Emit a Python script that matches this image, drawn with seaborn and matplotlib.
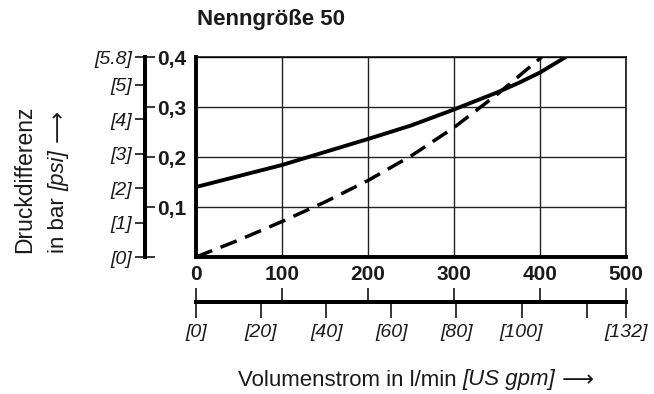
import matplotlib
matplotlib.use("Agg")
import matplotlib.pyplot as plt
import seaborn as sns

# pressure drop curves
flow_solid = [0, 50, 100, 150, 200, 250, 300, 350, 375, 400, 430]
dp_solid = [0.140, 0.162, 0.184, 0.210, 0.236, 0.263, 0.295, 0.329, 0.348, 0.369, 0.400]
flow_dashed = [0, 50, 100, 150, 200, 250, 300, 350, 402]
dp_dashed = [0.0, 0.034, 0.071, 0.110, 0.153, 0.202, 0.259, 0.325, 0.400]

flow_ticks = [0, 100, 200, 300, 400, 500]
flow_labels = ["0", "100", "200", "300", "400", "500"]
bar_ticks = [0, 0.1, 0.2, 0.3, 0.4]
bar_labels = ["", "0,1", "0,2", "0,3", "0,4"]
psi_ticks = [0, 1, 2, 3, 4, 5, 5.8]
psi_labels = ["[0]", "[1]", "[2]", "[3]", "[4]", "[5]", "[5.8]"]
gpm_ticks = [0, 20, 40, 60, 80, 100, 120, 132]
gpm_labels = ["[0]", "[20]", "[40]", "[60]", "[80]", "[100]", "", "[132]"]

BAR_TO_PSI = 14.5038
LPM_PER_GPM = 3.78541

sns.set_theme(style="white")
plt.rcParams['font.family'] = ['Liberation Sans', 'DejaVu Sans']
plt.rcParams['text.color'] = '#1a1a1a'
plt.rcParams['xtick.labelcolor'] = '#1a1a1a'
plt.rcParams['ytick.labelcolor'] = '#1a1a1a'

fig = plt.figure(figsize=(6.54, 3.94), dpi=100)
ax = fig.add_axes([196/654, 137/394, 430/654, 200/394])

sns.lineplot(x=flow_solid, y=dp_solid, ax=ax, color='black', lw=2.8)
sns.lineplot(x=flow_dashed, y=dp_dashed, ax=ax, color='black', lw=2.5)
ax.lines[-1].set_dashes((5, 2.6))

ax.set_xlim(0, 500)
ax.set_ylim(0, 0.4)
ax.set_xticks(flow_ticks)
ax.set_yticks(bar_ticks)
ax.grid(True, color='#222222', lw=1.0)
ax.tick_params(length=0, labelbottom=False, labelleft=False)
for name, s in ax.spines.items():
    s.set_color('black')
    s.set_linewidth(2.8 if name in ('left', 'bottom') else 1.1)

off_y = -51/430
off_x = -0.225

# bar scale (ticks to the right of the separate spine)
axb = ax.twinx()
axb.set_ylim(0, 0.4)
for s in ['top', 'bottom', 'left']:
    axb.spines[s].set_visible(False)
axb.spines['right'].set_position(('axes', off_y))
axb.spines['right'].set_linewidth(2.8)
axb.spines['right'].set_color('black')
axb.set_yticks(bar_ticks, bar_labels)
axb.tick_params(axis='y', direction='out', length=7.5, width=1.1, pad=1.5,
                labelsize=15, color='black', right=True)
for t in axb.get_yticklabels():
    t.set_fontweight('bold')
axb.grid(False)

# psi scale (ticks to the left)
axp = ax.twinx()
axp.set_ylim(0, 0.4 * BAR_TO_PSI)
axp.yaxis.tick_left()
for s in ['top', 'bottom', 'right']:
    axp.spines[s].set_visible(False)
axp.spines['left'].set_position(('axes', off_y))
axp.spines['left'].set_linewidth(2.8)
axp.spines['left'].set_color('black')
axp.set_yticks(psi_ticks, psi_labels)
axp.tick_params(axis='y', direction='out', length=7.5, width=1.1, pad=2,
                labelsize=14, color='black', left=True, right=False,
                labelleft=True, labelright=False)
for t in axp.get_yticklabels():
    t.set_fontstyle('italic')
axp.grid(False)

# l/min scale (ticks up, labels above)
axq = ax.twiny()
axq.set_xlim(0, 500)
for s in ['left', 'right', 'bottom']:
    axq.spines[s].set_visible(False)
axq.spines['top'].set_position(('axes', off_x))
axq.spines['top'].set_linewidth(2.8)
axq.spines['top'].set_color('black')
axq.set_xticks(flow_ticks, flow_labels)
axq.tick_params(axis='x', direction='out', length=10, width=1.1, pad=3,
                labelsize=15, color='black', top=True)
for t in axq.get_xticklabels():
    t.set_fontweight('bold')
axq.grid(False)

# US gpm scale (ticks down, labels below)
axg = ax.twiny()
axg.set_xlim(0, 500 / LPM_PER_GPM)
axg.xaxis.tick_bottom()
for s in ['left', 'right', 'top']:
    axg.spines[s].set_visible(False)
axg.spines['bottom'].set_position(('axes', off_x))
axg.spines['bottom'].set_linewidth(2.8)
axg.spines['bottom'].set_color('black')
axg.set_xticks(gpm_ticks, gpm_labels)
axg.tick_params(axis='x', direction='out', length=11.5, width=1.1, pad=4,
                labelsize=14, color='black', bottom=True, top=False,
                labelbottom=True, labeltop=False)
for t in axg.get_xticklabels():
    t.set_fontstyle('italic')
axg.grid(False)

fig.text(197/654, 1 - 20/394, "Nenngröße 50", fontsize=16, fontweight='bold',
         ha='left', va='center')


def label_run(x0, y0, parts, vertical=False, size=16):
    # place text pieces one after another (mixed upright / italic)
    r = fig.canvas.get_renderer()
    pos = x0 if not vertical else y0
    for txt, kw in parts:
        if vertical:
            t = fig.text(x0 / 654, 1 - pos / 394, txt, fontsize=size,
                         rotation=90, rotation_mode='anchor',
                         ha='left', va='center', **kw)
            pos -= t.get_window_extent(r).height
        else:
            t = fig.text(pos / 654, 1 - y0 / 394, txt, fontsize=size,
                         ha='left', va='center', **kw)
            pos += t.get_window_extent(r).width


arrow_kw = dict(family=['DejaVu Sans'])
label_run(238, 380, [("Volumenstrom in l/min ", {}),
                     ("[US gpm]", dict(style='italic')),
                     (" ⟶", arrow_kw)])
label_run(25, 253, [("Druckdifferenz", {})], vertical=True, size=16.5)
label_run(59, 253, [("in bar ", {}),
                    ("[psi]", dict(style='italic')),
                    (" ⟶", arrow_kw)], vertical=True)

fig.savefig("out.png", dpi=100)
